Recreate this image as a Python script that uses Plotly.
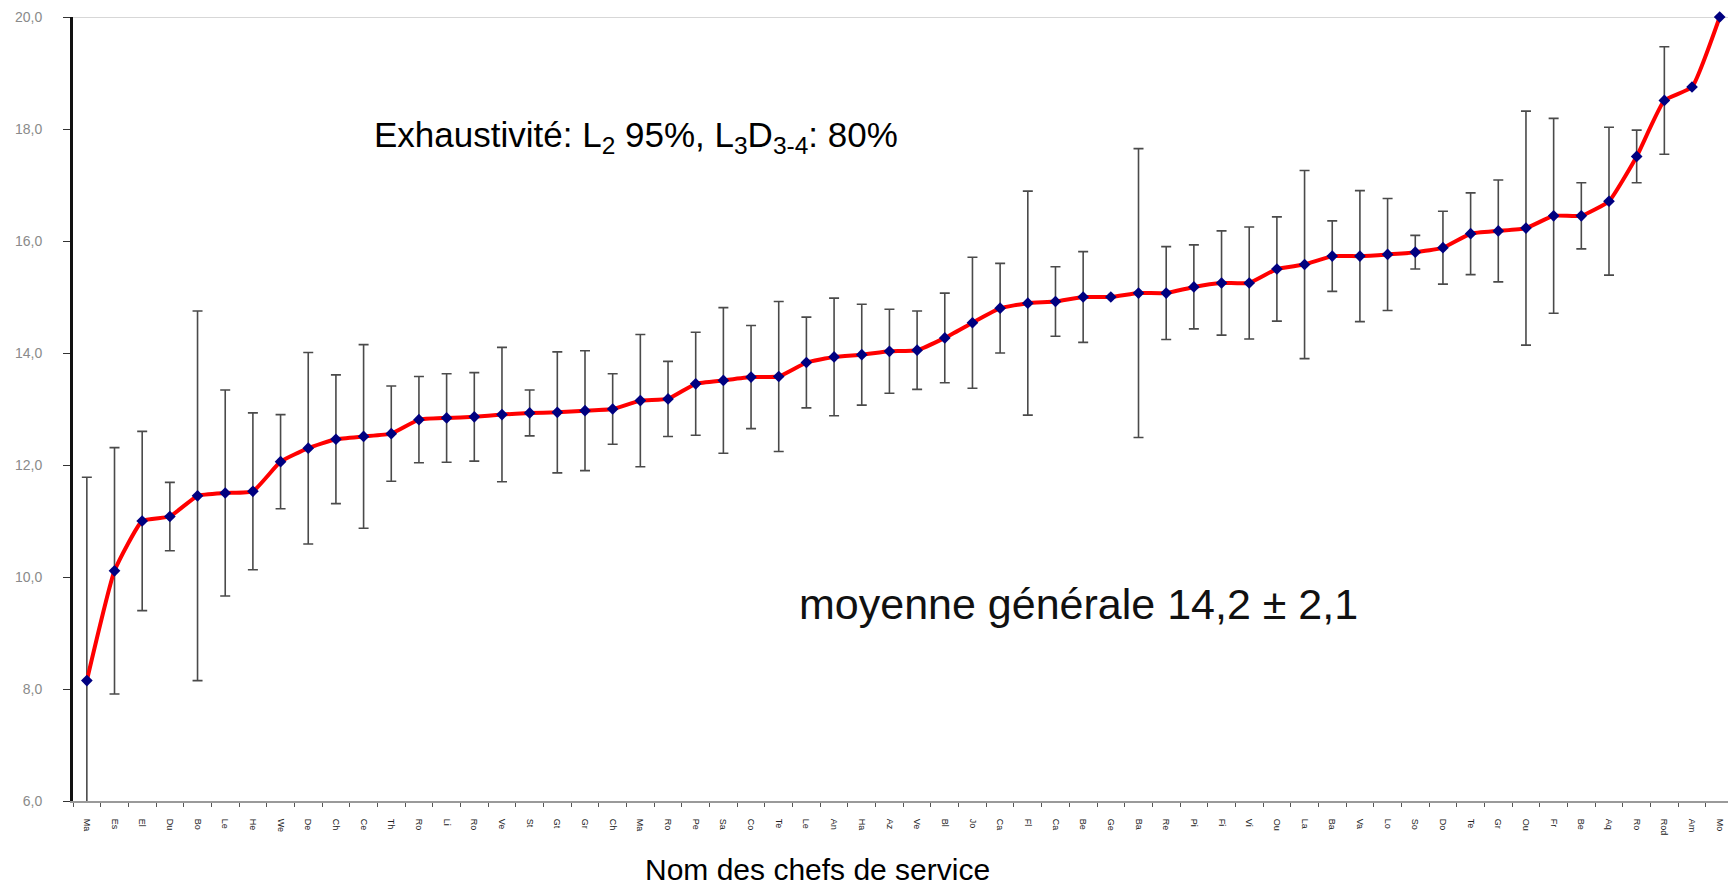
import plotly.graph_objects as go

names = ["Ma", "Es", "El", "Du", "Bo", "Le", "He", "We", "De", "Ch",
         "Ce", "Th", "Ro", "Li", "Ro", "Ve", "St", "Gt", "Gr", "Ch",
         "Ma", "Ro", "Pe", "Sa", "Co", "Te", "Le", "An", "Ha", "Az",
         "Ve", "Bl", "Jo", "Ca", "Fl", "Ca", "Be", "Ge", "Ba", "Re",
         "Pi", "Fi", "Vi", "Ou", "La", "Ba", "Va", "Lo", "So", "Do",
         "Te", "Gr", "Ou", "Fr", "Be", "Aq", "Ro", "Rod", "Am", "Mo"]

means = [8.15, 10.11, 11.0, 11.08, 11.45, 11.5, 11.53, 12.06, 12.3, 12.46,
         12.51, 12.56, 12.81, 12.84, 12.86, 12.9, 12.93, 12.94, 12.97, 13.0,
         13.15, 13.18, 13.45, 13.51, 13.57, 13.58, 13.83, 13.93, 13.97, 14.03,
         14.05, 14.27, 14.54, 14.8, 14.89, 14.92, 15.0, 15.0, 15.07, 15.07,
         15.18, 15.25, 15.25, 15.5, 15.58, 15.73, 15.73, 15.76, 15.8, 15.88,
         16.13, 16.18, 16.23, 16.45, 16.45, 16.71, 17.51, 18.51, 18.75, 20.0]

errors = [3.63, 2.2, 1.6, 0.61, 3.3, 1.84, 1.4, 0.84, 1.71, 1.15,
          1.64, 0.85, 0.77, 0.79, 0.79, 1.2, 0.41, 1.08, 1.07, 0.63,
          1.18, 0.67, 0.92, 1.3, 0.92, 1.34, 0.81, 1.05, 0.9, 0.75,
          0.7, 0.8, 1.17, 0.8, 2.0, 0.62, 0.81, 0.0, 2.58, 0.83,
          0.75, 0.93, 1.0, 0.93, 1.68, 0.63, 1.17, 1.0, 0.3, 0.65,
          0.73, 0.91, 2.09, 1.74, 0.59, 1.32, 0.47, 0.96, 0.0, 0.0]

y_ticks = [6, 8, 10, 12, 14, 16, 18, 20]
y_ticktext = ["6,0", "8,0", "10,0", "12,0", "14,0", "16,0", "18,0", "20,0"]

x_idx = list(range(len(names)))

fig = go.Figure()

# error bars (drawn underneath)
fig.add_trace(go.Scatter(
    x=x_idx, y=means, mode="markers",
    marker=dict(size=1, color="rgba(0,0,0,0)"),
    error_y=dict(type="data", array=errors, visible=True,
                 color="#4a4a4a", thickness=1.6, width=5),
    hoverinfo="skip", showlegend=False,
))

# red line with navy diamonds
fig.add_trace(go.Scatter(
    x=x_idx, y=means, mode="lines+markers",
    line=dict(color="#ff0000", width=4, shape="spline", smoothing=0.4),
    marker=dict(symbol="diamond", size=9, color="#000080"),
    cliponaxis=False,
    showlegend=False,
))

fig.update_layout(
    width=1728, height=885, autosize=False,
    margin=dict(l=73, r=0, t=17, b=84),
    paper_bgcolor="white", plot_bgcolor="white",
    font=dict(family="Liberation Sans, Arial, sans-serif"),
    xaxis=dict(
        range=[-0.5, 59.3],
        tickmode="array", tickvals=x_idx, ticktext=names,
        tickangle=90, tickfont=dict(size=9, color="#222"),
        ticks="", showgrid=False, zeroline=False,
        ticklabelstandoff=14,
        showline=True, linecolor="#9a9a9a", linewidth=2,
        minor=dict(tickvals=[i + 0.5 for i in range(-1, len(names))],
                   ticks="outside", ticklen=4, tickcolor="#555", tickwidth=1),
    ),
    yaxis=dict(
        range=[6, 20],
        tickmode="array", tickvals=y_ticks, ticktext=y_ticktext,
        tickfont=dict(size=14, color="#8a8a8a"),
        ticks="outside", ticklen=7, tickcolor="#333", tickwidth=1,
        ticklabelstandoff=18,
        showgrid=False, zeroline=False,
        showline=True, linecolor="#111", linewidth=3,
    ),
)

# top border line at 20
fig.add_shape(type="line", xref="paper", yref="y", x0=0, x1=1, y0=20, y1=20,
              line=dict(color="#b0b0b0", width=1), layer="below")

fig.add_annotation(
    xref="x", yref="y", x=10.3, y=17.85, xanchor="left", yanchor="middle",
    text="Exhaustivité: L<sub>2</sub> 95%, L<sub>3</sub>D<sub>3-4</sub>: 80%",
    showarrow=False, font=dict(size=35, color="black"),
)
fig.add_annotation(
    xref="x", yref="y", x=25.65, y=9.52, xanchor="left", yanchor="middle",
    text="moyenne générale 14,2 ± 2,1",
    showarrow=False, font=dict(size=43, color="#111"),
)
fig.add_annotation(
    xref="paper", yref="paper", x=(817 - 73) / 1655, y=0,
    xanchor="center", yanchor="top", yshift=-50,
    text="Nom des chefs de service",
    showarrow=False, font=dict(size=30, color="black"),
)

fig.write_html("out.html", config={"displayModeBar": False},
               post_script="document.body.style.margin='0';")
